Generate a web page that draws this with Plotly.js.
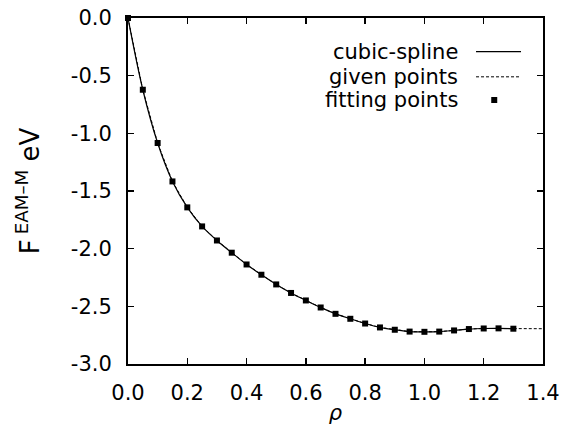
<!DOCTYPE html>
<html><head><meta charset="utf-8">
<script src="https://cdn.plot.ly/plotly-3.0.1.min.js"></script>
<style>html,body{margin:0;padding:0;background:#fff}#chart{width:561px;height:430px}</style>
</head><body><div id="chart"></div>
<script>
// fitting points (rho, F)
const fitRho = [0, 0.05, 0.1, 0.15, 0.2, 0.25, 0.3, 0.35, 0.4, 0.45, 0.5, 0.55, 0.6, 0.65,
  0.7, 0.75, 0.8, 0.85, 0.9, 0.95, 1.0, 1.05, 1.1, 1.15, 1.2, 1.25, 1.3];
const fitF = [0, -0.622, -1.084, -1.417, -1.642, -1.807, -1.929, -2.035, -2.137, -2.226, -2.310,
  -2.384, -2.449, -2.510, -2.565, -2.608, -2.649, -2.683, -2.703, -2.719, -2.721, -2.719,
  -2.709, -2.697, -2.692, -2.691, -2.694];
// given points (dashed)
const givenRho = [0, 0.05, 0.1, 0.15, 0.2, 0.25, 0.3, 0.35, 0.4, 0.45, 0.5, 0.55, 0.6, 0.65,
  0.7, 0.75, 0.8, 0.85, 0.9, 0.95, 1.0, 1.05, 1.1, 1.15, 1.2, 1.25, 1.3, 1.35, 1.4];
const givenF = [0, -0.622, -1.084, -1.417, -1.642, -1.807, -1.929, -2.035, -2.137, -2.226, -2.310,
  -2.384, -2.449, -2.510, -2.565, -2.608, -2.649, -2.683, -2.703, -2.719, -2.721, -2.719,
  -2.709, -2.697, -2.692, -2.691, -2.694, -2.694, -2.694];
const legendLabels = ['cubic-spline', 'given points', 'fitting points'];
const xTickVals = [0, 0.2, 0.4, 0.6, 0.8, 1.0, 1.2, 1.4];
const xTickText = ['0.0', '0.2', '0.4', '0.6', '0.8', '1.0', '1.2', '1.4'];
const yTickVals = [0, -0.5, -1.0, -1.5, -2.0, -2.5, -3.0];
const yTickText = ['0.0', '-0.5', '-1.0', '-1.5', '-2.0', '-2.5', '-3.0'];

const FONT = 'DejaVu Sans, Liberation Sans, Arial, sans-serif';

const traces = [
  {x: givenRho, y: givenF, type: 'scatter', mode: 'lines', name: legendLabels[1],
   line: {color: '#000', width: 1, dash: '3px,2px'}, showlegend: false},
  {x: fitRho, y: fitF, type: 'scatter', mode: 'lines', name: legendLabels[0],
   line: {color: '#000', width: 1.2, shape: 'spline', smoothing: 1}, showlegend: false},
  {x: fitRho, y: fitF, type: 'scatter', mode: 'markers', name: legendLabels[2],
   marker: {symbol: 'square', size: 6, color: '#000'}, cliponaxis: false, showlegend: false}
];

// legend (gnuplot style: text right-aligned, sample on the right)
const legX = 0.80, sampX0 = 0.8386, sampX1 = 0.947;
const legY = [0.9026, 0.830, 0.763];
const annotations = legendLabels.map((t, i) => ({
  text: t, xref: 'paper', yref: 'paper', x: legX, y: legY[i],
  xanchor: 'right', yanchor: 'middle', showarrow: false,
  font: {family: FONT, size: 21, color: '#000'}
}));
const shapes = [
  {type: 'line', xref: 'paper', yref: 'paper', x0: sampX0, x1: sampX1, y0: legY[0], y1: legY[0],
   line: {color: '#000', width: 1.2}},
  {type: 'line', xref: 'paper', yref: 'paper', x0: sampX0, x1: sampX1, y0: legY[1], y1: legY[1],
   line: {color: '#000', width: 1, dash: '3px,2px'}},
  {type: 'rect', xref: 'paper', yref: 'paper', xsizemode: 'pixel', ysizemode: 'pixel',
   xanchor: 0.8825, yanchor: legY[2], x0: -3, x1: 3, y0: -3, y1: 3,
   fillcolor: '#000', line: {width: 0}}
];

const axisCommon = {
  showgrid: false, zeroline: false, showline: true, linecolor: '#000', linewidth: 2,
  mirror: 'ticks', ticks: 'inside', ticklen: 6, tickwidth: 1.5, tickcolor: '#000',
  tickfont: {family: FONT, size: 21, color: '#000'}, automargin: false
};

const layout = {
  width: 561, height: 430,
  margin: {l: 128, r: 18, t: 18, b: 66},
  paper_bgcolor: '#fff', plot_bgcolor: '#fff',
  showlegend: false,
  xaxis: Object.assign({}, axisCommon, {
    range: [0, 1.4], tickmode: 'array', tickvals: xTickVals, ticktext: xTickText,
    ticklabelstandoff: 9,
    title: {text: '<i>ρ</i>', font: {family: FONT, size: 21, color: '#000'}, standoff: 1}
  }),
  yaxis: Object.assign({}, axisCommon, {
    range: [-3, 0], tickmode: 'array', tickvals: yTickVals, ticktext: yTickText,
    ticklabelstandoff: 10,
    title: {text: 'F\u2009<sup>EAM–M</sup>\u00a0eV', font: {family: FONT, size: 26, color: '#000'}, standoff: 24}
  }),
  annotations: annotations,
  shapes: shapes
};

Plotly.newPlot('chart', traces, layout, {displayModeBar: false, staticPlot: true});
</script>
</body></html>
